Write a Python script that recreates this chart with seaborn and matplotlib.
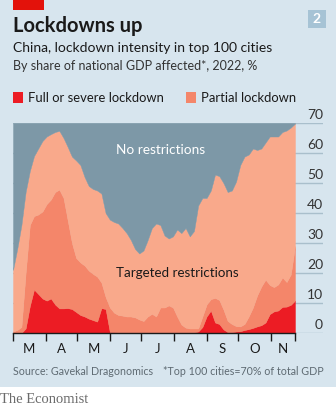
import numpy as np
import pandas as pd
import matplotlib
matplotlib.use("Agg")
import matplotlib.pyplot as plt
import matplotlib.dates as mdates
import matplotlib.transforms as mtransforms
from matplotlib.patches import Rectangle
import seaborn as sns

# Share of national GDP (%) in top-100 cities under each level of restriction,
# sampled every four days from 1 March 2022
full_lockdown = [0, 0, 0, 1.5, 9, 14.5, 13, 11.5, 10.8, 11.5, 9.5, 8.2, 8.2, 8.3, 8, 7,
                 6, 5.5, 4.8, 4.3, 3.8, 8.3, 8, 0.3, 0.3, 0.2, 0.2, 0.2, 0.2, 0.2, 0.2, 0.2,
                 0.2, 0.2, 0.2, 0.2, 0.2, 0.2, 0.2, 0.2, 0.2, 0.2, 0.2, 0.2, 0.5, 2, 5.5, 7.5,
                 3.5, 3, 1.2, 0.3, 0.3, 0.5, 0.6, 1, 1.3, 1.7, 2.2, 2.6, 3.5, 6.3, 7.2, 7.5,
                 8.7, 8.8, 9.4, 10.8]
partial_lockdown = [0.5, 1, 2, 18.5, 27, 24.5, 26.5, 29, 32.2, 33, 37.5, 39.6, 36.8, 29.2, 22, 18,
                    17.5, 17, 16, 15.4, 15, 8.5, 4, 8.2, 6.5, 5.8, 5.6, 5.3, 5.3, 5, 4.3, 3.8,
                    5.3, 6.2, 5.3, 8.3, 8.3, 9, 8.3, 5.3, 2.6, 1.6, 1.3, 1.3, 1, 3.5, 4, 3.8,
                    8.2, 8, 6.6, 3.7, 2.7, 1.8, 1.6, 2, 4.2, 6.8, 10.3, 12.9, 14.3, 9.7, 8.1, 8.7,
                    9.8, 8.2, 10.1, 18.2]
targeted = [20.5, 27, 34, 27, 18, 20, 22, 23.5, 22.5, 21.8, 20, 19.6, 20, 24.5, 28.8, 32.5,
            32.5, 29.5, 28.2, 28.3, 28.7, 29.7, 28, 29.3, 30.2, 30.5, 29.2, 27.8, 25.5, 22.8, 22, 23.5,
            25.5, 28.6, 31, 27.5, 24, 22.3, 23.7, 29, 30.5, 33.2, 30.7, 32.5, 41, 39.5, 35.5, 36.2,
            41.1, 41.3, 42.2, 43, 44.5, 48.2, 53.8, 55.8, 54, 53, 48.5, 46, 45.7, 49.5, 50.2, 49.3,
            48.5, 50.5, 49, 40.8]
top100_share = 70  # top 100 cities = 70% of total GDP

dates = pd.date_range("2022-03-01", periods=len(full_lockdown), freq="4D")
no_restrictions = top100_share - (np.array(full_lockdown) + np.array(partial_lockdown)
                                  + np.array(targeted))

y_ticks = [0, 10, 20, 30, 40, 50, 60, 70]
month_labels = ["M", "A", "M", "J", "J", "A", "S", "O", "N"]

BG = "#D7E5EE"
RED = "#EC1C24"
PARTIAL = "#F4866A"
TARGETED = "#F9A98B"
GREY = "#7D98A7"
GRID = "#A9BFCC"
INK = "#1A1A1A"

sns.set_theme(style="white")
plt.rcParams["font.family"] = ["Lato", "DejaVu Sans"]

W, H = 336, 408
fig = plt.figure(figsize=(W / 100, H / 100), dpi=100)
fig.patch.set_facecolor(BG)


def fx(x):
    return x / W


def fy(y):
    return 1 - y / H


# white footer strip
fig.patches.append(Rectangle((0, 0), 1, fy(387), transform=fig.transFigure,
                             facecolor="white", edgecolor="none", zorder=0))
# red tag
fig.patches.append(Rectangle((fx(13.3), fy(10)), fx(31), 10 / H, transform=fig.transFigure,
                             facecolor="#E3120B", edgecolor="none"))
# chart number box
fig.patches.append(Rectangle((fx(308), fy(27.5)), fx(17.5), 17.5 / H, transform=fig.transFigure,
                             facecolor="#A6C3D5", edgecolor="none"))
fig.text(fx(316.8), fy(19), "2", color="white", fontsize=10, fontweight="bold",
         ha="center", va="center")

fig.text(fx(13), fy(32), "Lockdowns up", fontsize=14.5, fontweight="bold", color=INK,
         va="baseline")
fig.text(fx(13), fy(52.5), "China, lockdown intensity in top 100 cities", fontsize=10,
         color=INK, va="baseline")
fig.text(fx(13), fy(70), "By share of national GDP affected*, 2022, %", fontsize=9,
         color="#333333", va="baseline")

# legend
for x0, label, col in [(13.3, "Full or severe lockdown", RED),
                       (186, "Partial lockdown", PARTIAL)]:
    fig.patches.append(Rectangle((fx(x0), fy(102.5)), fx(10), 10 / H,
                                 transform=fig.transFigure, facecolor=col, edgecolor="none"))
    fig.text(fx(x0 + 15), fy(102), label, fontsize=9.4, color=INK, va="baseline")

# main axes
ax = fig.add_axes([fx(13), fy(333), fx(310), 210 / H])
ax.set_facecolor(BG)
ax.stackplot(dates, full_lockdown, partial_lockdown, targeted, no_restrictions,
             colors=[RED, PARTIAL, TARGETED, GREY], linewidth=0.3,
             edgecolor="face", zorder=2)

span_days = (dates[-1] - dates[0]).days
x_end = dates[0] + pd.Timedelta(days=span_days * 310 / 282)
ax.set_xlim(dates[0], x_end)
ax.set_ylim(0, 70)

ax.set_yticks(y_ticks)
ax.set_yticklabels([])
ax.tick_params(axis="y", length=0)
ax.yaxis.grid(True, color=GRID, linewidth=1)
ax.set_axisbelow(True)
trans = mtransforms.blended_transform_factory(ax.transAxes, ax.transData)
for v in y_ticks:
    ax.text(1.0, v + 0.6, str(v), transform=trans, ha="right", va="bottom",
            fontsize=10, color="#333333")

for side in ["top", "right", "left"]:
    ax.spines[side].set_visible(False)
ax.spines["bottom"].set_bounds(mdates.date2num(dates[0]), mdates.date2num(dates[-1]))
ax.spines["bottom"].set_color(INK)
ax.spines["bottom"].set_linewidth(1)
ax.spines["bottom"].set_zorder(5)

month_starts = list(pd.date_range("2022-03-01", "2022-11-01", freq="MS")) + [dates[-1]]
ax.set_xticks(month_starts)
ax.set_xticklabels([])
ax.tick_params(axis="x", which="major", direction="out", length=6, width=1, color=INK,
               bottom=True)
mids = [month_starts[i] + (month_starts[i + 1] - month_starts[i]) / 2
        for i in range(len(month_starts) - 1)]
ax.set_xticks(mids, minor=True)
ax.set_xticklabels(month_labels, minor=True, fontsize=9.5, color=INK)
ax.tick_params(axis="x", which="minor", length=0, pad=7)

ax.text(pd.Timestamp("2022-07-19"), 61, "No restrictions", color="white", fontsize=9.8,
        ha="center", va="center", zorder=6)
ax.text(pd.Timestamp("2022-08-04"), 20, "Targeted restrictions", color=INK, fontsize=9.6,
        ha="center", va="center", zorder=6)

fig.text(fx(13), fy(375), "Source: Gavekal Dragonomics", fontsize=7.7, color="#5E6A72",
         va="baseline")
fig.text(fx(323.5), fy(375), "*Top 100 cities=70% of total GDP", fontsize=7.7,
         color="#5E6A72", va="baseline", ha="right")
fig.text(fx(0), fy(403), "The Economist", fontsize=10.5, color="#6B6B6B",
         family=["Liberation Serif", "DejaVu Serif"], va="baseline")

fig.savefig("out.png", dpi=100, facecolor=fig.get_facecolor())
